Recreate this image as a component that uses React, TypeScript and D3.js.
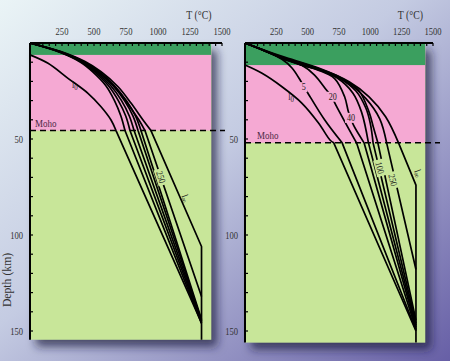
import * as d3 from "d3";

type Pt = [number, number]; // [T °C, depth km]

const tempTicks = [250, 500, 750, 1000, 1250, 1500];
const depthTicks = [50, 100, 150];
const depthLabel = "Depth (km)";
const tempLabel = "T (°C)";

// ---- left panel geotherms (crust part is smooth, mantle part straight)
const leftL0: Pt[] = [[0, 6.2], [141, 10.6], [297, 18.4], [453, 26.2], [555, 33.2], [633, 40.1], [672, 45.6]];
const leftA: Pt[] = [[0, 0], [232, 4.8], [395, 10], [490, 15], [590, 22], [660, 30], [710, 38], [742, 45.6]];
const leftB: Pt[] = [[0, 0], [235, 4.8], [405, 10], [505, 15], [610, 22], [690, 30], [748, 38], [781, 45.6]];
const leftC: Pt[] = [[0, 0], [237, 4.7], [412, 10], [518, 15], [628, 22], [715, 30], [776, 38], [813, 45.6]];
const leftD: Pt[] = [[0, 0], [239, 4.7], [418, 10], [530, 15], [645, 22], [738, 30], [804, 38], [844, 45.6]];
const leftE: Pt[] = [[0, 0], [240, 4.6], [422, 10], [538, 15], [656, 22], [752, 30], [824, 38], [867, 45.6]];
const left250: Pt[] = [[0, 0], [240, 4.6], [425, 9.9], [545, 15.4], [672, 23.5], [768, 32], [850, 40], [898, 45.6]];
const leftInf: Pt[] = [[0, 0], [242, 4.5], [430, 9.7], [555, 15], [688, 22.8], [789, 31.3], [883, 40.1], [945, 45.6]];
const leftMantleEnds: Pt[][] = [
  [[1340, 145.8]], [[1340, 146]], [[1340, 145.5]], [[1340, 145]], [[1340, 144.5]], [[1340, 144]],
  [[1340, 132]], [[1340, 106], [1340, 154.5]],
];

// ---- right panel geotherms
const rightL0: Pt[] = [[0, 11.5], [136, 15.8], [295, 22.8], [455, 31.4], [588, 41.8], [678, 50.5], [708, 52]];
const right5: Pt[] = [[0, 0], [140, 3.6], [295, 8.5], [375, 13], [440, 19.3], [470, 22.8], [495, 25.4], [635, 40], [775, 52]];
const right20: Pt[] = [[0, 0], [140, 3.6], [295, 8], [450, 11.5], [555, 16.7], [650, 24.5], [695, 28], [715, 31], [890, 52]];
const right40: Pt[] = [[0, 0], [140, 3.6], [295, 8], [450, 11.5], [580, 14], [715, 18.5], [795, 28], [825, 35.8], [845, 39], [865, 42.7], [950, 52]];
const right60: Pt[] = [[0, 0], [140, 3.6], [295, 7.8], [450, 11.4], [582, 13.9], [730, 18], [860, 26], [930, 36], [985, 52]];
const right80: Pt[] = [[0, 0], [140, 3.6], [296, 7.7], [450, 11.3], [585, 13.7], [740, 17.8], [885, 25], [965, 34], [1000, 42], [1022, 52]];
const right100: Pt[] = [[0, 0], [140, 3.5], [297, 7.6], [452, 11.1], [587, 13.5], [750, 17.6], [905, 24.5], [990, 36], [1025, 44], [1060, 52]];
const right250: Pt[] = [[0, 0], [140, 3.5], [298, 7.4], [585, 13.4], [815, 20.5], [965, 29], [1075, 39.5], [1130, 52]];
const rightInf: Pt[] = [[0, 0], [140, 3.4], [302, 7.1], [593, 13.2], [831, 20.2], [990, 28], [1122, 38.4], [1225, 52]];
const rightMantleEnds: Pt[][] = [
  [[1364, 150]], [[1364, 149.5]], [[1364, 149]], [[1364, 148]], [[1364, 147]], [[1364, 146]],
  [[1364, 144.5]], [[1364, 118]], [[1364, 74], [1364, 156]],
];

interface Lbl { t: number; d: number; text: string; sub?: string; angle: number; gap: boolean }
const leftLabels: Lbl[] = [
  { t: 350, d: 21.5, text: "l", sub: "0", angle: 0, gap: false },
  { t: 1023, d: 69.8, text: "250", angle: 72, gap: true },
  { t: 1219, d: 80.7, text: "l", sub: "∞", angle: 68, gap: false },
];
const rightLabels: Lbl[] = [
  { t: 367, d: 28, text: "l", sub: "0", angle: 0, gap: false },
  { t: 468, d: 23, text: "5", angle: 0, gap: true },
  { t: 700, d: 28, text: "20", angle: 0, gap: true },
  { t: 846, d: 39, text: "40", angle: 0, gap: true },
  { t: 1077, d: 65, text: "100", angle: 76, gap: true },
  { t: 1181, d: 71.4, text: "250", angle: 76, gap: true },
  { t: 1385, d: 67.7, text: "l", sub: "∞", angle: 68, gap: false },
];

const C_GREEN = "#3b9f5f";
const C_PINK = "#f5a9d3";
const C_LIGHT = "#c8e699";
const SERIF = "'Liberation Serif', 'DejaVu Serif', serif";

interface PanelProps {
  x0: number; x1: number; fillT: number; bottomD: number;
  bandD: number; mohoD: number; mohoEnd: number;
  crusts: Pt[][]; mantles: Pt[][]; labels: Lbl[]; mohoX: number;
}

function Panel(p: PanelProps) {
  const x = d3.scaleLinear().domain([0, 1500]).range([p.x0, p.x1]);
  const y = d3.scaleLinear().domain([0, 150]).range([43, 331]);
  const smooth = d3.line<Pt>().x((q) => x(q[0])).y((q) => y(q[1])).curve(d3.curveCatmullRom.alpha(0.5));
  const minor = d3.range(50, 1501, 50);
  const dMinor = d3.range(10, p.bottomD, 10);
  const right = x(p.fillT);
  const bottom = y(p.bottomD);
  return (
    <g>
      <g filter="url(#shadow)">
        <rect x={x(0)} y={y(0)} width={right - x(0)} height={bottom - y(0)} fill={C_LIGHT} />
      </g>
      <rect x={x(0)} y={y(0)} width={right - x(0)} height={y(p.mohoD) - y(0)} fill={C_PINK} />
      <rect x={x(0)} y={y(0)} width={right - x(0)} height={y(p.bandD) - y(0)} fill={C_GREEN} />
      <line x1={x(0)} x2={p.mohoEnd} y1={y(p.mohoD)} y2={y(p.mohoD)} stroke="#000" strokeWidth={1.5} strokeDasharray="6,4" />
      <text transform={`translate(${p.mohoX},${y(p.mohoD) - 4}) scale(0.82,1)`} fontFamily={SERIF} fontSize={11} fill="#4a2845">Moho</text>
      {p.crusts.map((c, i) => (
        <path key={i} d={smooth(c) + p.mantles[i].map((q) => `L${x(q[0])},${y(q[1])}`).join("")}
          fill="none" stroke="#000" strokeWidth={1.7} strokeLinejoin="round" />
      ))}
      {p.labels.map((l, i) => {
        const w = l.text.length * 4.6 + 3;
        const fill = l.d < p.mohoD ? C_PINK : C_LIGHT;
        return (
          <g key={i} transform={`translate(${x(l.t)},${y(l.d)}) rotate(${l.angle})`}>
            {l.gap && <rect x={-w / 2} y={-5} width={w} height={10} fill={fill} />}
            <text transform="scale(0.85,1)" textAnchor="middle" dy="0.35em" fontFamily={SERIF} fontSize={9.5} fill="#1a1a1a">
              {l.text}
              {l.sub && <tspan fontSize={8} dy={2}>{l.sub}</tspan>}
            </text>
          </g>
        );
      })}
      {/* axes */}
      <line x1={x(0)} x2={x(1500)} y1={y(0)} y2={y(0)} stroke="#000" strokeWidth={2} />
      <line x1={x(0)} x2={x(0)} y1={y(0)} y2={bottom} stroke="#000" strokeWidth={2} />
      {minor.map((t) => (
        <line key={t} x1={x(t)} x2={x(t)} y1={y(0)} y2={y(0) + 3} stroke="#000" strokeWidth={1.2} />
      ))}
      {dMinor.map((d) => (
        <line key={d} x1={x(0)} x2={x(0) + 3} y1={y(d)} y2={y(d)} stroke="#000" strokeWidth={1.2} />
      ))}
      {tempTicks.map((t) => (
        <text key={t} transform={`translate(${x(t)},35) scale(0.78,1)`} textAnchor="middle" fontFamily={SERIF} fontSize={11} fill="#333">{t}</text>
      ))}
      {depthTicks.map((d) => (
        <text key={d} transform={`translate(${x(0) - 7},${y(d) + 4}) scale(0.78,1)`} textAnchor="end" fontFamily={SERIF} fontSize={11} fill="#333">{d}</text>
      ))}
      <text transform={`translate(${x(1320)},19) scale(0.82,1)`} textAnchor="middle" fontFamily={SERIF} fontSize={12} fill="#333">{tempLabel}</text>
    </g>
  );
}

export default function App() {
  const leftCrusts = [leftL0, leftA, leftB, leftC, leftD, leftE, left250, leftInf];
  const rightCrusts = [rightL0, right5, right20, right40, right60, right80, right100, right250, rightInf];
  return (
    <div>
      <style>{`body{margin:0}`}</style>
      <svg width={450} height={361} style={{ display: "block" }}>
        <defs>
          <linearGradient id="bg" x1="0" y1="0" x2="1" y2="1">
            <stop offset="0" stopColor="#eaf4f6" />
            <stop offset="0.45" stopColor="#c4cbe2" />
            <stop offset="1" stopColor="#675fa6" />
          </linearGradient>
          <filter id="shadow" x="-10%" y="-10%" width="140%" height="140%">
            <feDropShadow dx={6} dy={7} stdDeviation={5} floodColor="#1a1a3c" floodOpacity={0.7} />
          </filter>
        </defs>
        <rect width={450} height={361} fill="url(#bg)" />
        <Panel x0={30} x1={222} fillT={1415} bottomD={154.5} bandD={6.2} mohoD={45.6} mohoEnd={225}
          crusts={leftCrusts} mantles={leftMantleEnds} labels={leftLabels} mohoX={35} />
        <Panel x0={245} x1={433} fillT={1437} bottomD={156} bandD={11.5} mohoD={52} mohoEnd={440}
          crusts={rightCrusts} mantles={rightMantleEnds} labels={rightLabels} mohoX={257} />
        <text transform="translate(11,280) rotate(-90) scale(0.9,1)" textAnchor="middle" fontFamily={SERIF} fontSize={13} fill="#333">{depthLabel}</text>
      </svg>
    </div>
  );
}
